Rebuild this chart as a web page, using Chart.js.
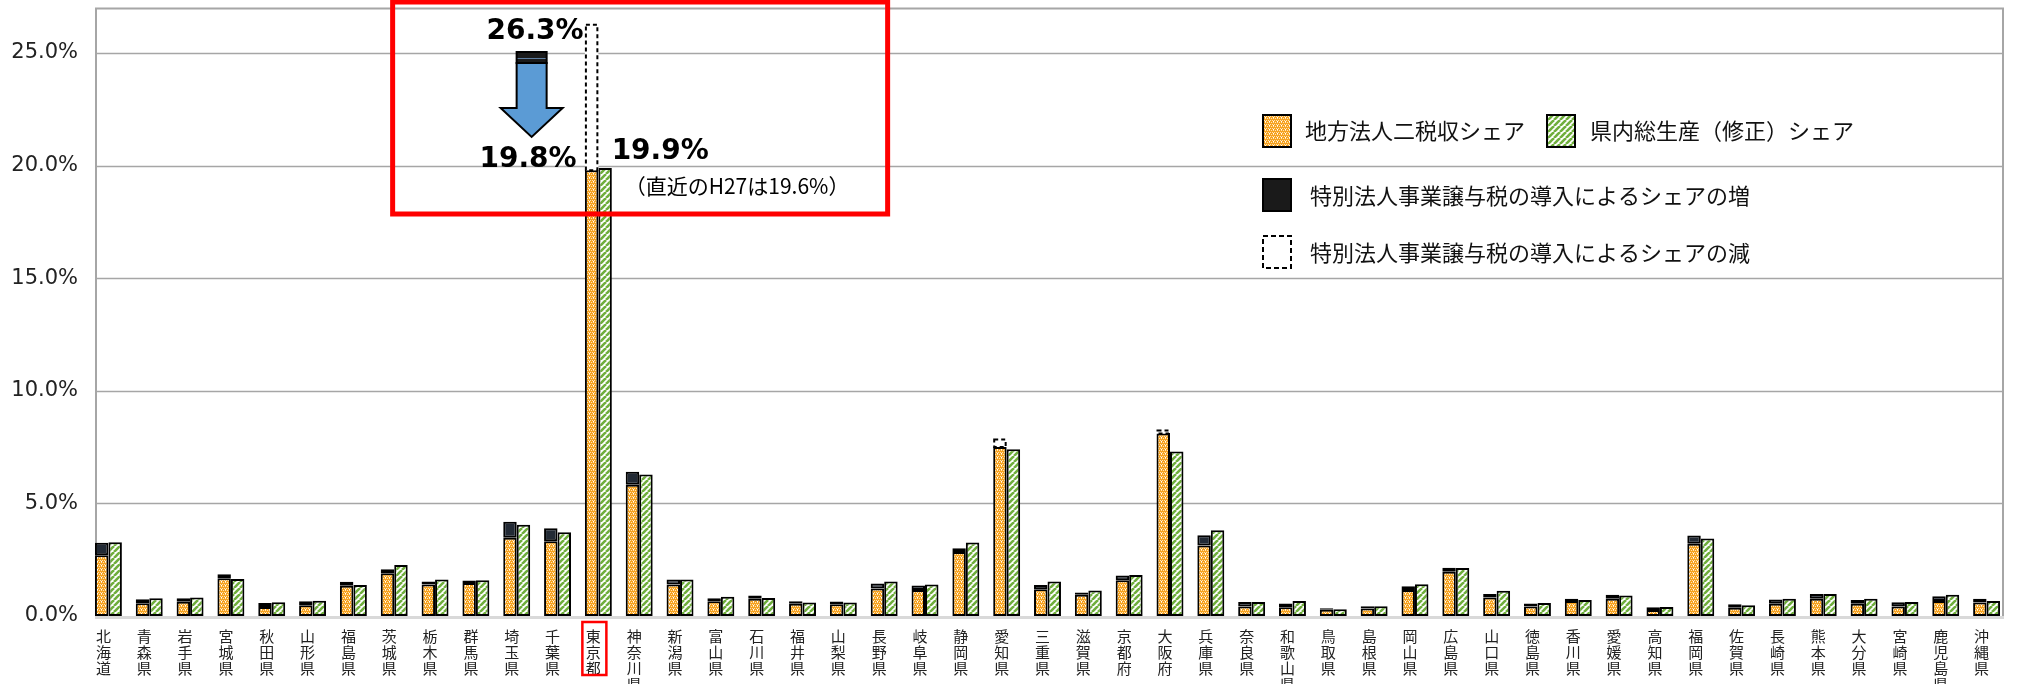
<!DOCTYPE html>
<html lang="ja">
<head>
<meta charset="utf-8">
<title>地方法人二税収シェアと県内総生産シェア</title>
<script src="https://cdn.jsdelivr.net/npm/chart.js@4.4.0/dist/chart.umd.min.js"></script>
<style>
  html, body { margin: 0; padding: 0; background: #fff; }
  #wrap { width: 2020px; height: 684px; }
</style>
</head>
<body>
<div id="wrap"><canvas id="chart" width="2020" height="684"></canvas></div>
<script>
const prefectures = [
  "北海道", "青森県", "岩手県", "宮城県", "秋田県", "山形県", "福島県", "茨城県",
  "栃木県", "群馬県", "埼玉県", "千葉県", "東京都", "神奈川県", "新潟県", "富山県",
  "石川県", "福井県", "山梨県", "長野県", "岐阜県", "静岡県", "愛知県", "三重県",
  "滋賀県", "京都府", "大阪府", "兵庫県", "奈良県", "和歌山県", "鳥取県", "島根県",
  "岡山県", "広島県", "山口県", "徳島県", "香川県", "愛媛県", "高知県", "福岡県",
  "佐賀県", "長崎県", "熊本県", "大分県", "宮崎県", "鹿児島県", "沖縄県"
];

// 地方法人二税収シェア (導入前・減の場合は導入後)
const taxShare = [
  2.70, 0.57, 0.63, 1.68, 0.40, 0.48, 1.34, 1.90, 1.40, 1.46, 3.48, 3.32, 19.8, 5.83, 1.40, 0.65,
  0.77, 0.54, 0.52, 1.22, 1.16, 2.84, 7.50, 1.19, 0.94, 1.59, 8.10, 3.13, 0.42, 0.39, 0.28, 0.33,
  1.15, 1.96, 0.82, 0.42, 0.67, 0.77, 0.27, 3.21, 0.37, 0.54, 0.77, 0.54, 0.42, 0.67, 0.60
];

// 特別法人事業譲与税の導入によるシェアの増
const shareIncrease = [
  0.55, 0.17, 0.16, 0.17, 0.18, 0.17, 0.18, 0.18, 0.13, 0.12, 0.70, 0.58, 0, 0.58, 0.22, 0.14,
  0.14, 0.11, 0.12, 0.22, 0.19, 0.17, 0, 0.19, 0.10, 0.21, 0, 0.46, 0.20, 0.16, 0.06, 0.10,
  0.17, 0.18, 0.16, 0.13, 0.10, 0.17, 0.12, 0.36, 0.15, 0.19, 0.21, 0.17, 0.19, 0.21, 0.17
];

// 特別法人事業譲与税の導入によるシェアの減
const shareDecrease = [
  0, 0, 0, 0, 0, 0, 0, 0, 0, 0, 0, 0, 6.5, 0, 0, 0,
  0, 0, 0, 0, 0, 0, 0.38, 0, 0, 0, 0.18, 0, 0, 0, 0, 0,
  0, 0, 0, 0, 0, 0, 0, 0, 0, 0, 0, 0, 0, 0, 0
];

// 県内総生産（修正）シェア
const gdpShare = [
  3.28, 0.79, 0.82, 1.64, 0.61, 0.68, 1.38, 2.26, 1.62, 1.59, 4.05, 3.72, 19.9, 6.28, 1.62, 0.86,
  0.80, 0.60, 0.60, 1.53, 1.40, 3.26, 7.40, 1.53, 1.13, 1.82, 7.30, 3.81, 0.62, 0.67, 0.30, 0.43,
  1.41, 2.13, 1.12, 0.58, 0.71, 0.91, 0.40, 3.44, 0.48, 0.77, 0.98, 0.77, 0.62, 0.94, 0.67
];

const seriesNames = [
  "地方法人二税収シェア",
  "特別法人事業譲与税の導入によるシェアの増",
  "特別法人事業譲与税の導入によるシェアの減",
  "県内総生産（修正）シェア"
];
const recentNote = "（直近のH27は19.6%）";

const JP = '"Noto Sans CJK JP", sans-serif';
const LAT = '"DejaVu Sans", sans-serif';

function makePattern(size, paint) {
  const c = document.createElement("canvas");
  c.width = size; c.height = size;
  const g = c.getContext("2d");
  paint(g, size);
  return g.createPattern(c, "repeat");
}

// orange small checker
const orangeFill = makePattern(4, (g) => {
  g.fillStyle = "#f7a21e";
  g.fillRect(0, 0, 4, 4);
  g.fillStyle = "#fde3b5";
  g.fillRect(0, 0, 1, 1); g.fillRect(2, 0, 1, 1);
  g.fillRect(1, 2, 1, 1); g.fillRect(3, 2, 1, 1);
  g.fillStyle = "#ffffff";
  g.fillRect(1, 1, 1, 1);
});

// green diagonal stripes
const greenFill = makePattern(6, (g, s) => {
  g.fillStyle = "#ffffff";
  g.fillRect(0, 0, s, s);
  g.strokeStyle = "#6fae3c";
  g.lineWidth = 2.6;
  for (let o = -s; o <= s; o += s) {
    g.beginPath();
    g.moveTo(o, s);
    g.lineTo(o + s, 0);
    g.stroke();
  }
});

const darkFill = "#222a35";

const plotFrame = {
  id: "plotFrame",
  beforeDatasetsDraw(chart) {
    const { ctx, chartArea, scales: { y } } = chart;
    const left = chartArea.left + 8, right = chartArea.right - 4;
    ctx.save();
    ctx.strokeStyle = "#a6a6a6";
    ctx.lineWidth = 1.5;
    y.ticks.forEach(t => {
      if (t.value <= 0) return;
      const py = Math.round(y.getPixelForValue(t.value)) + 0.5;
      ctx.beginPath(); ctx.moveTo(left, py); ctx.lineTo(right, py); ctx.stroke();
    });
    const top = Math.round(y.getPixelForValue(y.max)) + 0.5;
    const bottom = y.getPixelForValue(0);
    ctx.beginPath();
    ctx.moveTo(left, bottom); ctx.lineTo(left, top); ctx.lineTo(right, top); ctx.lineTo(right, bottom);
    ctx.lineWidth = 2;
    ctx.stroke();
    ctx.restore();
  },
  afterDatasetsDraw(chart) {
    const { ctx, chartArea, scales: { y } } = chart;
    const left = chartArea.left + 8, right = chartArea.right - 4;
    const bottom = y.getPixelForValue(0) + 1.5;
    ctx.save();
    ctx.strokeStyle = "#d9d9d9";
    ctx.lineWidth = 3;
    ctx.beginPath(); ctx.moveTo(left - 1, bottom); ctx.lineTo(right + 1, bottom); ctx.stroke();

    // dashed outline for the decrease segments
    const meta = chart.getDatasetMeta(2);
    ctx.strokeStyle = "#000";
    ctx.lineWidth = 2;
    ctx.setLineDash([4, 3]);
    meta.data.forEach((el, i) => {
      if (!shareDecrease[i]) return;
      const p = el.getProps(["x", "y", "base", "width"], true);
      ctx.strokeRect(p.x - p.width / 2 + 1, p.y + 1, p.width - 2, p.base - p.y - 1);
    });
    ctx.restore();
  }
};

const notes = {
  id: "notes",
  afterDraw(chart) {
    const { ctx, scales: { x, y } } = chart;
    const tk = prefectures.indexOf("東京都");
    const ob = chart.getDatasetMeta(0).data[tk];
    const ox = ob.x + 3;
    ctx.save();

    // red box around the Tokyo callout
    ctx.strokeStyle = "#ff0000";
    ctx.lineWidth = 5;
    ctx.strokeRect(ox - 202, 2, 495, 212);

    // red box around the Tokyo tick label
    const lx = x.getPixelForValue(tk) - 5;
    ctx.lineWidth = 2.5;
    ctx.strokeRect(lx - 11, 622, 24, 53);

    // values
    const before = taxShare[tk] + shareDecrease[tk];
    ctx.fillStyle = "#000";
    ctx.font = "bold 28px " + LAT;
    ctx.textBaseline = "alphabetic";
    ctx.textAlign = "right";
    ctx.fillText(before.toFixed(1) + "%", ox - 11, 39);
    ctx.fillText(taxShare[tk].toFixed(1) + "%", ox - 18, 167);
    ctx.textAlign = "left";
    ctx.fillText(gdpShare[tk].toFixed(1) + "%", ox + 17, 159);
    ctx.font = "21px " + JP;
    ctx.textBaseline = "middle";
    ctx.fillText(recentNote, ox + 30, 186);

    // down arrow
    const ax = ox - 63;
    ctx.fillStyle = "#1a1a1a";
    ctx.fillRect(ax - 15, 52, 30, 11);
    ctx.strokeStyle = "#000";
    ctx.lineWidth = 2;
    ctx.strokeRect(ax - 15, 52, 30, 11);
    ctx.strokeStyle = "#5d7da0";
    ctx.lineWidth = 1;
    ctx.beginPath(); ctx.moveTo(ax - 14, 58.5); ctx.lineTo(ax + 14, 58.5); ctx.stroke();
    ctx.beginPath();
    ctx.moveTo(ax - 15, 63);
    ctx.lineTo(ax + 15, 63);
    ctx.lineTo(ax + 15, 108);
    ctx.lineTo(ax + 31, 108);
    ctx.lineTo(ax, 137);
    ctx.lineTo(ax - 31, 108);
    ctx.lineTo(ax - 15, 108);
    ctx.closePath();
    ctx.fillStyle = "#5b9bd5";
    ctx.fill();
    ctx.strokeStyle = "#000";
    ctx.lineWidth = 2;
    ctx.stroke();

    // legend
    const names = chart.data.datasets.map(d => d.label);
    ctx.font = "22px " + JP;
    ctx.textBaseline = "middle";
    ctx.textAlign = "left";
    const swatch = (sx, sy, fill, dashed) => {
      ctx.fillStyle = fill;
      ctx.fillRect(sx, sy, 30, 34);
      ctx.strokeStyle = "#000";
      ctx.lineWidth = 2;
      ctx.setLineDash(dashed ? [5, 3] : []);
      ctx.strokeRect(sx + 1, sy + 1, 28, 32);
      ctx.setLineDash([]);
    };
    swatch(1262, 114, orangeFill, false);
    swatch(1546, 114, greenFill, false);
    swatch(1262, 178, "#1a1a1a", false);
    swatch(1262, 235, "#ffffff", true);
    ctx.fillStyle = "#111";
    ctx.fillText(names[0], 1305, 131);
    ctx.fillText(names[3], 1590, 131);
    ctx.fillText(names[1], 1310, 196);
    ctx.fillText(names[2], 1310, 253);
    ctx.restore();
  }
};

const barBase = { borderColor: "#000", borderWidth: 2, borderSkipped: false, categoryPercentage: 0.66, barPercentage: 1.0 };

new Chart(document.getElementById("chart"), {
  type: "bar",
  data: {
    labels: prefectures.map(p => p.split("")),
    datasets: [
      { ...barBase, label: seriesNames[0], data: taxShare, stack: "tax", backgroundColor: orangeFill },
      { ...barBase, label: seriesNames[1], data: shareIncrease, stack: "tax", backgroundColor: darkFill },
      { ...barBase, label: seriesNames[2], data: shareDecrease, stack: "tax", backgroundColor: "#ffffff", borderWidth: 0 },
      { ...barBase, label: seriesNames[3], data: gdpShare, stack: "gdp", backgroundColor: greenFill }
    ]
  },
  options: {
    responsive: false,
    animation: false,
    layout: { padding: { top: 8, right: 13, left: 0, bottom: 0 } },
    plugins: { legend: { display: false }, tooltip: { enabled: false } },
    scales: {
      x: {
        stacked: true,
        grid: { display: false, drawTicks: false },
        border: { display: false },
        ticks: {
          autoSkip: false, maxRotation: 0, minRotation: 0,
          padding: 12, labelOffset: -5, color: "#222",
          font: { family: JP, size: 15, lineHeight: 1.07 }
        },
        afterFit: s => { s.height = 68; }
      },
      y: {
        stacked: true,
        min: 0,
        max: 27,
        grid: { display: false, drawTicks: false },
        border: { display: false },
        ticks: {
          stepSize: 5, includeBounds: false, padding: 10, color: "#222",
          font: { family: LAT, size: 21 },
          callback: v => v.toFixed(1) + "%"
        },
        afterFit: s => { s.width = 88; s.paddingTop = 0; s.paddingBottom = 0; }
      }
    }
  },
  plugins: [plotFrame, notes]
});
</script>
</body>
</html>
